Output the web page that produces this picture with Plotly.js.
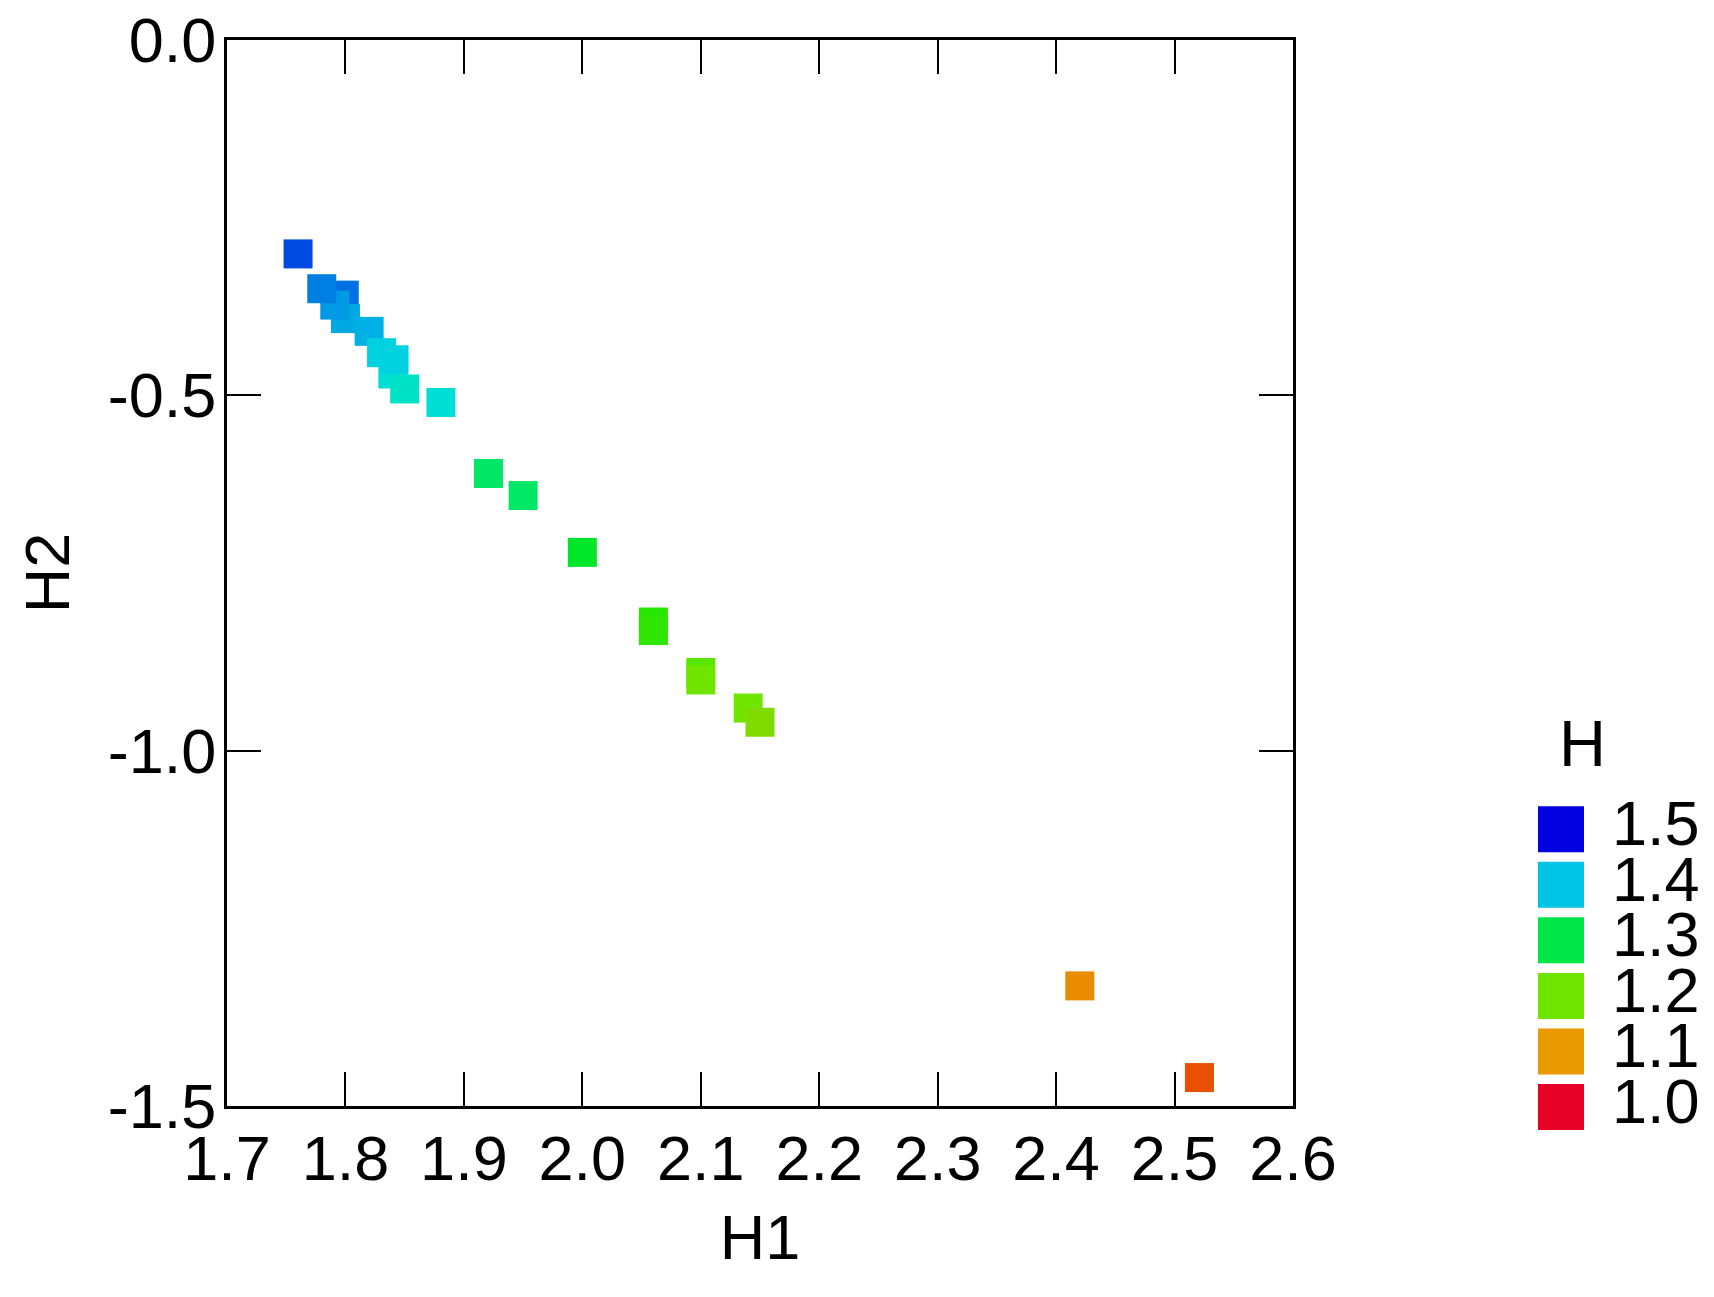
<!DOCTYPE html>
<html>
<head>
<meta charset="utf-8">
<script src="https://cdn.plot.ly/plotly-3.0.1.min.js"></script>
<style>html,body{margin:0;padding:0;background:#fff;} #chart{width:1714px;height:1297px;}</style>
</head>
<body>
<div id="chart"></div>
<script>
// ---- data ----
const h1 = [1.760, 1.799, 1.800, 1.791, 1.780, 1.820, 1.8305, 1.840, 1.841, 1.850, 1.8806,
            1.9207, 1.950, 2.000, 2.060, 2.060, 2.100, 2.100, 2.140, 2.150, 2.420, 2.521];
const h2 = [-0.301, -0.359, -0.392, -0.373, -0.350, -0.410, -0.440, -0.470, -0.450, -0.491, -0.510,
            -0.610, -0.641, -0.721, -0.819, -0.831, -0.890, -0.9005, -0.940, -0.960, -1.331, -1.460];
const hVal = [1.463, 1.443, 1.414, 1.422, 1.435, 1.410, 1.387, 1.365, 1.385, 1.355, 1.370,
              1.312, 1.312, 1.278, 1.232, 1.229, 1.211, 1.200, 1.200, 1.187, 1.0905, 1.050];

const legendValues = [1.5, 1.4, 1.3, 1.2, 1.1, 1.0];
const legendLabels = ['1.5', '1.4', '1.3', '1.2', '1.1', '1.0'];

const xTickVals = [1.7, 1.8, 1.9, 2.0, 2.1, 2.2, 2.3, 2.4, 2.5, 2.6];
const xTickLabels = ['1.7', '1.8', '1.9', '2.0', '2.1', '2.2', '2.3', '2.4', '2.5', '2.6'];
const yTickVals = [0, -0.5, -1.0, -1.5];
const yTickLabels = ['0.0', '-0.5', '-1.0', '-1.5'];

// ---- styling ----
const colorscale = [
  [0.0, '#e60026'], [0.1, '#e85000'], [0.2, '#e89a00'], [0.4, '#70e600'],
  [0.5, '#00e600'], [0.6, '#00e648'], [0.7, '#00e4c0'], [0.75, '#00dcdc'],
  [0.8, '#00c4e4'], [1.0, '#0000e0']
];
const FONT = 'Liberation Sans, Arial, sans-serif';
const W = 1714, H = 1297;
const px = v => v / W, py = v => (H - v) / H;

const traces = [
  {
    type: 'scatter', mode: 'markers', x: h1, y: h2,
    marker: { symbol: 'square', size: 29, color: hVal, colorscale: colorscale,
              cmin: 1.0, cmax: 1.5, showscale: false, line: { width: 0 } },
    xaxis: 'x', yaxis: 'y', hoverinfo: 'x+y', showlegend: false
  },
  {
    type: 'scatter', mode: 'markers', x: legendValues.map(() => 0), y: legendValues,
    marker: { symbol: 'square', size: 46, color: legendValues, colorscale: colorscale,
              cmin: 1.0, cmax: 1.5, showscale: false, line: { width: 0 } },
    xaxis: 'x2', yaxis: 'y2', cliponaxis: false, hoverinfo: 'skip', showlegend: false
  },
  {
    type: 'scatter', mode: 'text', x: legendValues.map(() => 0), y: legendValues,
    text: legendLabels, textposition: 'middle right',
    textfont: { family: FONT, size: 63, color: '#000' },
    xaxis: 'x3', yaxis: 'y2', cliponaxis: false, hoverinfo: 'skip', showlegend: false
  }
];

const axisCommon = {
  showline: true, linecolor: '#000', linewidth: 3, mirror: 'allticks',
  ticks: 'inside', ticklen: 34, tickwidth: 2, tickcolor: '#000',
  showgrid: false, zeroline: false, automargin: false,
  tickfont: { family: FONT, size: 63, color: '#000' }
};

const layout = {
  width: W, height: H,
  margin: { l: 0, r: 0, t: 0, b: 0 },
  paper_bgcolor: '#fff', plot_bgcolor: '#fff',
  font: { family: FONT, color: '#000' },
  showlegend: false,
  xaxis: Object.assign({}, axisCommon, {
    domain: [px(227), px(1293)], range: [1.7, 2.6],
    tickmode: 'array', tickvals: xTickVals, ticktext: xTickLabels,
    ticklabelstandoff: -5,
    title: { text: 'H1', font: { family: FONT, size: 63, color: '#000' }, standoff: 24 }
  }),
  yaxis: Object.assign({}, axisCommon, {
    domain: [py(1106), py(40)], range: [-1.5, 0],
    tickmode: 'array', tickvals: yTickVals, ticktext: yTickLabels,
    ticklabelstandoff: -5,
    title: { text: 'H2', font: { family: FONT, size: 63, color: '#000' }, standoff: 18 }
  }),
  xaxis2: { domain: [px(1538), px(1584)], range: [-1, 1], visible: false, fixedrange: true },
  xaxis3: { domain: [px(1612), px(1714)], range: [0, 1], visible: false, fixedrange: true },
  yaxis2: { domain: [py(1107), py(829.2)], range: [1.0, 1.5], visible: false, fixedrange: true },
  annotations: [
    { text: 'H', xref: 'paper', yref: 'paper', x: px(1582), y: py(743.5),
      xanchor: 'center', yanchor: 'middle', showarrow: false,
      font: { family: FONT, size: 65, color: '#000' } }
  ]
};

Plotly.newPlot('chart', traces, layout, { staticPlot: true, displayModeBar: false });
</script>
</body>
</html>
